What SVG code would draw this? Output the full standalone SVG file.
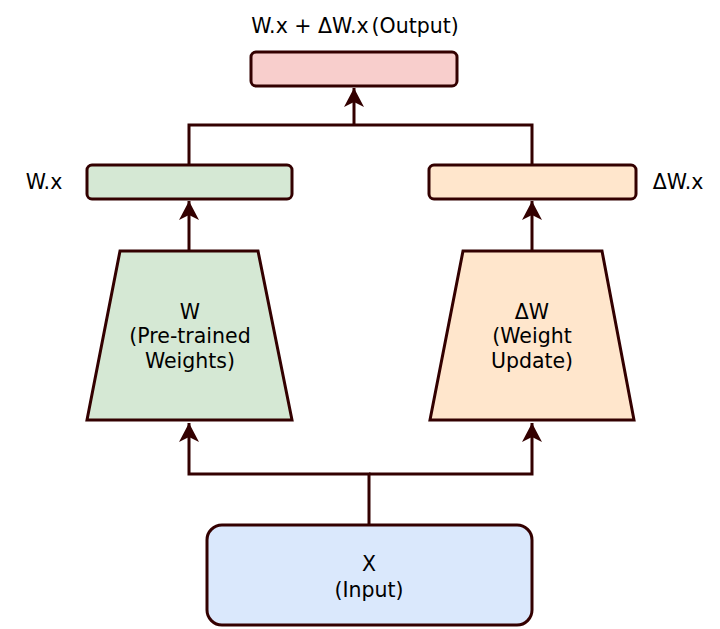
<svg xmlns="http://www.w3.org/2000/svg" width="720" height="629" viewBox="0 0 720 629">
<style>
.n{stroke:#330000;stroke-width:3;stroke-linejoin:miter}
.t{font-family:"DejaVu Sans",sans-serif;font-size:20.5px;fill:#000;text-anchor:middle}
.c{fill:none;stroke:#330000;stroke-width:3}
</style>
<defs>
<marker id="ah" markerUnits="userSpaceOnUse" markerWidth="22" markerHeight="22" refX="19" refY="10" orient="auto">
<path d="M0,0 L19,10 L0,20 L5,10 Z" fill="#330000"/>
</marker>
</defs>
<rect width="720" height="629" fill="#fff"/>
<g id="connectors">
<path class="c" d="M369,525 V474 H189 V423" marker-end="url(#ah)"/>
<path class="c" d="M369,474 H532 V423" marker-end="url(#ah)"/>
<path class="c" d="M189,251 V201" marker-end="url(#ah)"/>
<path class="c" d="M532,251 V201" marker-end="url(#ah)"/>
<path class="c" d="M189,165 V125 H532 V165"/>
<path class="c" d="M354,125 V88" marker-end="url(#ah)"/>
</g>
<g id="output">
<rect class="n" x="251" y="52" width="206" height="34" rx="5" fill="#f8cecc"/>
<text class="t" x="355" y="33">W.x + ΔW.x<tspan dx="3">(Output)</tspan></text>
</g>
<g id="wx">
<rect class="n" x="87" y="165" width="205" height="34" rx="5" fill="#d5e8d4"/>
<text class="t" x="44" y="189">W.x</text>
</g>
<g id="dwx">
<rect class="n" x="429" y="165" width="207" height="34" rx="5" fill="#ffe6cc"/>
<text class="t" x="678" y="189">ΔW.x</text>
</g>
<g id="w">
<polygon class="n" points="120,251 258,251 292,420 87,420" fill="#d5e8d4"/>
<text class="t" x="190" y="319">W</text>
<text class="t" x="190" y="343">(Pre-trained</text>
<text class="t" x="190" y="368">Weights)</text>
</g>
<g id="dw">
<polygon class="n" points="463,251 602,251 634,420 430,420" fill="#ffe6cc"/>
<text class="t" x="532" y="319">ΔW</text>
<text class="t" x="532" y="343">(Weight</text>
<text class="t" x="532" y="368">Update)</text>
</g>
<g id="input">
<rect class="n" x="207" y="525" width="325" height="100" rx="15" fill="#dae8fc"/>
<text class="t" x="369" y="571">X</text>
<text class="t" x="369" y="597">(Input)</text>
</g>
</svg>
